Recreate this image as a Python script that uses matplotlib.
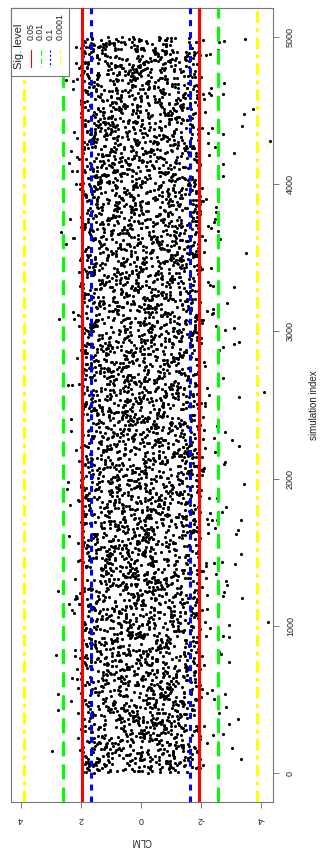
"""
Simulated CLM statistic against simulation index, with the critical bounds
of four significance levels (drawn as a rotated R-style base plot).
"""

import numpy as np
import matplotlib
matplotlib.use("Agg")
import matplotlib.pyplot as plt
from matplotlib.lines import Line2D
from matplotlib.patches import Rectangle

plt.rcParams['font.family'] = ['Liberation Sans', 'DejaVu Sans']
plt.rcParams['lines.scale_dashes'] = False

n_sim = 5000

# The dense cloud cannot be read point by point: these are its CLM quantiles
body_prob = [0.000, 0.004, 0.009, 0.015, 0.022, 0.030, 0.050, 0.100, 0.200,
             0.300, 0.400, 0.500, 0.600, 0.700, 0.800, 0.900, 0.950, 0.975,
             0.988, 0.995, 1.000]
body_clm = [-2.63, -2.45, -2.25, -2.10, -1.99, -1.93, -1.84, -1.62, -1.17,
            -0.77, -0.38, 0.00, 0.38, 0.77, 1.17, 1.60, 1.82, 1.93,
            2.00, 2.15, 2.36]

# points well outside the cloud, read one by one
tail_index = [4708, 4142, 3675, 3594, 3086, 2636, 1977, 1927, 1610, 1239,
              1148, 800, 537, 428, 152,
              4973, 4988, 4690, 4613, 4479, 4511, 4395, 4291, 4339, 4214,
              4135, 4056, 3626, 3535, 3300, 3195, 3012, 3023, 2917, 2930,
              2892, 2686, 2557, 2586, 2317, 2264, 2221, 2115, 2097, 1965,
              1805, 1771, 1719, 1649, 1626, 1486, 1433, 1418, 1304, 1275,
              1228, 1202, 1191, 1028, 1007, 929, 926, 810, 752, 539,
              446, 367, 335, 267, 172, 93]
tail_clm = [2.50, 2.39, 2.67, 2.50, 2.72, 2.41, 2.41, 2.47, 2.40, 2.74,
            2.39, 2.83, 2.74, 2.77, 2.94,
            -2.78, -3.48, -2.77, -2.76, -3.44, -3.73, -3.39, -4.30, -2.73, -3.10,
            -2.76, -2.73, -2.66, -3.50, -3.10, -2.87, -2.82, -3.10, -3.12, -3.28,
            -2.74, -2.76, -3.29, -4.11, -2.82, -3.06, -3.28, -2.80, -2.79, -3.44,
            -2.84, -2.71, -3.34, -3.23, -3.19, -3.33, -2.72, -3.16, -2.84, -2.89,
            -2.78, -2.73, -3.39, -4.23, -2.94, -2.76, -2.94, -2.68, -2.93, -2.82,
            -2.83, -3.24, -2.93, -2.76, -3.04, -3.34]

sig_levels = ['0.05', '0.01', '0.1', '0.0001']
sig_bounds = [1.960, 2.576, 1.645, 3.891]
sig_colors = ['#FF0000', '#00FF00', '#0000FF', '#FFFF00']
sig_dashes = [None, (10.8, 5.8), (4.3, 4.3), (8.6, 3.6, 2.9, 3.6)]

# Lay the cloud quantiles over the remaining indices: each index gets one
# quantile rank, the ranks shuffled by a fixed integer bit-mix of the index.
index = np.arange(1, n_sim + 1)
body_index = index[~np.isin(index, tail_index)]
h = body_index.astype(np.uint64)
h = h * np.uint64(0x9E3779B97F4A7C15)
h ^= h >> np.uint64(30)
h = h * np.uint64(0xBF58476D1CE4E5B9)
h ^= h >> np.uint64(27)
h = h * np.uint64(0x94D049BB133111EB)
h ^= h >> np.uint64(31)
rank = np.argsort(np.argsort(h))
body_values = np.interp((rank + 0.5) / len(rank), body_prob, body_clm)

W, H = 320.0, 850.0
def fx(px):
    return px / W
def fy(py):
    return 1.0 - py / H

fig = plt.figure(figsize=(W / 100, H / 100), dpi=100)
ax = fig.add_axes([fx(10.7), fy(802.3), (273.3 - 10.7) / W, (802.3 - 7.6) / H])

ax.scatter(body_values, body_index, s=5, c='k', linewidths=0, zorder=2)
ax.scatter(tail_clm, tail_index, s=5, c='k', linewidths=0, zorder=2)

for bound, col, dash in zip(sig_bounds, sig_colors, sig_dashes):
    for side in (1, -1):
        ln = ax.axvline(side * bound, color=col, lw=2.2, zorder=3)
        if dash is not None:
            ln.set_dashes(dash)

ax.set_xlim(4.333, -4.42)
ax.set_ylim(-199, 5200)

gray = '#777777'
for sp in ax.spines.values():
    sp.set_color(gray)
    sp.set_linewidth(0.8)

ax.yaxis.tick_right()
ax.set_yticks(range(0, 5001, 1000))
ax.set_yticklabels([str(v) for v in range(0, 5001, 1000)], rotation=90, va='center')
ax.set_xticks([4, 2, 0, -2, -4])
ax.set_xticklabels(['4', '2', '0', '-2', '-4'], rotation=180)
ax.tick_params(direction='out', length=4.3, width=0.7, color=gray,
               pad=4.8, labelsize=6.5, labelcolor='#222222')

fig.text(fx(141), fy(841), 'CLM', rotation=180, ha='center', va='center',
         fontsize=7, color='#222222')
fig.text(fx(314), fy(405), 'simulation index', rotation=90, ha='center',
         va='center', fontsize=7, color='#222222')

# legend, drawn by hand since it is rotated with the plot
fig.add_artist(Rectangle((fx(10.7), fy(76)), (69 - 10.7) / W, (76 - 7.6) / H,
                         transform=fig.transFigure, fill=True, facecolor='white',
                         edgecolor=gray, lw=0.8, zorder=5))
fig.text(fx(19), fy(46), 'Sig. level', rotation=90, ha='center', va='center',
         fontsize=8, color='#222222', zorder=6)
for i, (lab, col, dash) in enumerate(zip(sig_levels, sig_colors, sig_dashes)):
    x = 30.7 + i * 9.8
    fig.text(fx(x), fy(40), lab, rotation=90, ha='center', va='bottom',
             fontsize=6.3, color='#222222', zorder=6)
    ln = Line2D([fx(x), fx(x)], [fy(50), fy(67)], transform=fig.transFigure,
                color=col, lw=0.8, zorder=6)
    if dash is not None:
        ln.set_dashes(tuple(d * 0.35 for d in dash))
    fig.add_artist(ln)

fig.savefig('out.png', dpi=100)
